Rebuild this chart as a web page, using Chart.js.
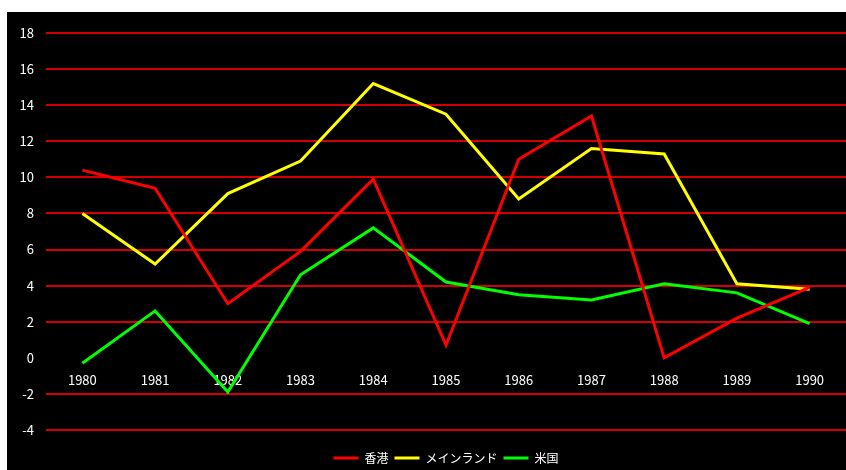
<!DOCTYPE html>
<html>
<head>
<meta charset="utf-8">
<script src="https://cdn.jsdelivr.net/npm/chart.js"></script>
<style>
  html, body { margin: 0; padding: 0; background: #fff; overflow: hidden; }
  #wrap { position: absolute; left: 7px; top: 12px; width: 839px; height: 462px; }
</style>
</head>
<body>
<div id="wrap"><canvas id="myChart"></canvas></div>
<script>
const years = ['1980', '1981', '1982', '1983', '1984', '1985', '1986', '1987', '1988', '1989', '1990'];
const hongKong = [10.4, 9.4, 3.0, 5.9, 9.9, 0.7, 11.0, 13.4, 0.0, 2.2, 3.9];
const mainland = [8.0, 5.2, 9.1, 10.9, 15.2, 13.5, 8.8, 11.6, 11.3, 4.1, 3.8];
const usa = [-0.3, 2.6, -1.9, 4.6, 7.2, 4.2, 3.5, 3.2, 4.1, 3.6, 1.9];

const FONT = '"Noto Sans CJK JP", "Noto Sans", sans-serif';

// paint the canvas black behind everything
const blackBg = {
  id: 'blackBg',
  beforeDraw: (chart) => {
    const ctx = chart.ctx;
    ctx.save();
    ctx.fillStyle = '#000';
    ctx.fillRect(0, 0, chart.width, chart.height);
    ctx.restore();
  },
};

// center the legend over the plot area instead of the whole canvas
const shiftLegend = {
  id: 'shiftLegend',
  afterLayout: (chart) => {
    const lg = chart.legend;
    const dx = (chart.chartArea.left + chart.chartArea.right) / 2 - (lg.left + lg.right) / 2;
    lg.left += dx;
    lg.right += dx;
  },
};

const ctx = document.getElementById('myChart').getContext('2d');
new Chart(ctx, {
  type: 'line',
  data: {
    labels: years,
    datasets: [
      { label: '香港', data: hongKong, borderColor: '#ff0000', backgroundColor: '#ff0000' },
      { label: 'メインランド', data: mainland, borderColor: '#ffff00', backgroundColor: '#ffff00' },
      { label: '米国', data: usa, borderColor: '#00ff00', backgroundColor: '#00ff00' },
    ],
  },
  options: {
    responsive: true,
    maintainAspectRatio: false,
    animation: false,
    layout: { padding: { top: 21, left: 0, right: 0, bottom: 0 } },
    elements: {
      line: { borderWidth: 3, tension: 0, fill: false },
      point: { radius: 0, hoverRadius: 0 },
    },
    plugins: {
      tooltip: { enabled: false },
      legend: {
        position: 'bottom',
        labels: {
          color: '#fff',
          font: { family: FONT, size: 12 },
          usePointStyle: true,
          pointStyleWidth: 25,
          padding: 6,
          generateLabels: (chart) =>
            chart.data.datasets.map((ds, i) => ({
              text: ds.label,
              fillStyle: ds.borderColor,
              strokeStyle: ds.borderColor,
              lineWidth: 3,
              pointStyle: 'line',
              fontColor: '#fff',
              hidden: false,
              datasetIndex: i,
            })),
        },
      },
    },
    scales: {
      x: {
        position: { y: 0 },
        offset: true,
        grid: { display: false, drawTicks: false },
        border: { display: false },
        ticks: { color: '#fff', font: { family: FONT, size: 13 }, padding: 14, maxRotation: 0 },
      },
      gap: {
        type: 'category',
        position: 'bottom',
        labels: [],
        grid: { display: false },
        border: { display: false },
        ticks: { display: false },
        afterFit: (scale) => { scale.height = 16; },
      },
      y: {
        min: -4,
        max: 18,
        ticks: { stepSize: 2, color: '#fff', font: { family: FONT, size: 13 }, padding: 12 },
        grid: {
          drawTicks: false,
          lineWidth: 2,
          color: (c) => (c.tick && c.tick.value === 0 ? 'rgba(0,0,0,0)' : '#d40000'),
        },
        border: { display: false },
        afterFit: (scale) => { scale.width = 39; },
      },
    },
  },
  plugins: [blackBg, shiftLegend],
});
</script>
</body>
</html>
